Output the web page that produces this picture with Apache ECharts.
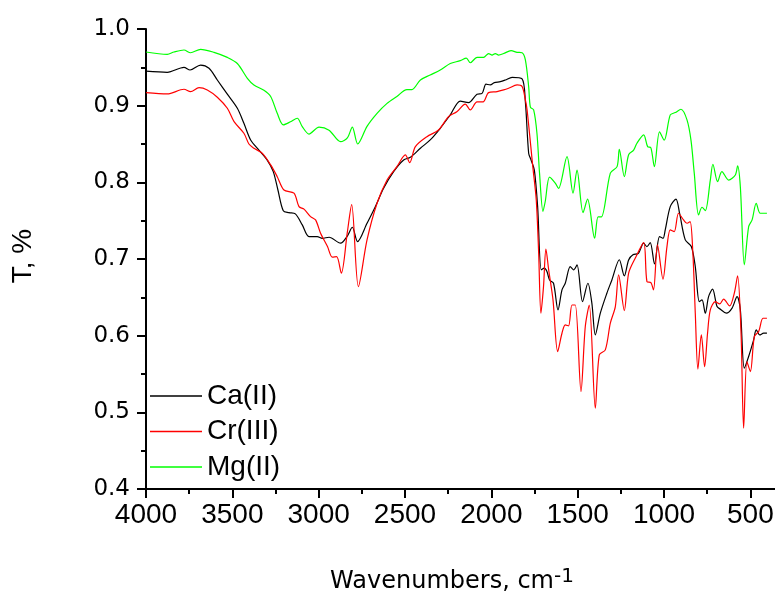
<!DOCTYPE html>
<html>
<head>
<meta charset="utf-8">
<script src="https://cdn.jsdelivr.net/npm/echarts@6/dist/echarts.min.js"></script>
<style>
  html, body { margin: 0; padding: 0; background: #fff; }
  #chart { width: 775px; height: 596px; }
</style>
</head>
<body>
<div id="chart"></div>
<script>
// IR transmittance spectra of the three metal complexes
const seriesNames = ['Ca(II)', 'Cr(III)', 'Mg(II)'];

const caWn = [4000, 3877, 3780, 3745, 3684, 3635, 3587, 3529, 3471, 3433, 3394, 3346, 3298, 3263, 3236, 3205, 3172, 3135, 3095, 3056, 3008, 2979, 2940, 2873, 2836, 2805, 2775, 2720, 2672, 2624, 2566, 2508, 2469, 2411, 2354, 2296, 2238, 2180, 2132, 2083, 2054, 2031, 2006, 1983, 1948, 1919, 1880, 1822, 1803, 1784, 1770, 1751, 1732, 1711, 1693, 1678, 1663, 1640, 1614, 1591, 1572, 1543, 1524, 1504, 1472, 1441, 1418, 1398, 1369, 1331, 1302, 1259, 1230, 1205, 1180, 1148, 1118, 1099, 1080, 1055, 1026, 1006, 993, 964, 931, 910, 877, 842, 819, 796, 780, 761, 742, 719, 693, 674, 639, 606, 577, 558, 535, 510, 481, 466, 446, 423, 404];
const caT = [0.945, 0.9435, 0.950, 0.9465, 0.953, 0.9488, 0.9335, 0.915, 0.8966, 0.877, 0.8553, 0.842, 0.829, 0.814, 0.790, 0.763, 0.7605, 0.7588, 0.7445, 0.7292, 0.7292, 0.727, 0.7284, 0.7206, 0.7292, 0.7414, 0.7227, 0.7466, 0.7683, 0.7923, 0.814, 0.8292, 0.8327, 0.8445, 0.8553, 0.8705, 0.888, 0.906, 0.904, 0.915, 0.916, 0.928, 0.927, 0.930, 0.9313, 0.9335, 0.937, 0.935, 0.905, 0.838, 0.829, 0.816, 0.7683, 0.6858, 0.688, 0.6836, 0.6727, 0.6684, 0.6336, 0.6597, 0.6684, 0.690, 0.6858, 0.6923, 0.6445, 0.6684, 0.6424, 0.601, 0.6293, 0.6554, 0.6727, 0.699, 0.678, 0.6988, 0.7054, 0.7075, 0.7206, 0.7162, 0.7214, 0.6936, 0.7292, 0.727, 0.738, 0.7683, 0.778, 0.7597, 0.7249, 0.7162, 0.690, 0.6445, 0.6467, 0.6293, 0.651, 0.6606, 0.638, 0.6345, 0.6293, 0.636, 0.651, 0.6336, 0.5576, 0.5728, 0.5945, 0.6075, 0.601, 0.6032, 0.6032];

const crWn = [4000, 3877, 3780, 3742, 3693, 3645, 3587, 3529, 3490, 3433, 3404, 3375, 3327, 3278, 3240, 3201, 3143, 3114, 3085, 3047, 3018, 2989, 2949, 2921, 2896, 2869, 2834, 2809, 2770, 2720, 2662, 2604, 2547, 2498, 2473, 2440, 2373, 2306, 2248, 2200, 2151, 2122, 2083, 2048, 2016, 1967, 1929, 1900, 1851, 1822, 1803, 1793, 1760, 1740, 1726, 1713, 1698, 1684, 1668, 1643, 1616, 1591, 1572, 1553, 1533, 1514, 1481, 1456, 1433, 1398, 1375, 1340, 1311, 1282, 1263, 1230, 1205, 1167, 1118, 1099, 1076, 1061, 1038, 1006, 983, 964, 941, 916, 887, 867, 849, 833, 819, 804, 784, 765, 748, 732, 703, 678, 655, 620, 593, 574, 554, 539, 520, 500, 477, 452, 427, 404];
const crT = [0.917, 0.9153, 0.9214, 0.9183, 0.9235, 0.9205, 0.911, 0.8966, 0.8791, 0.864, 0.850, 0.8445, 0.838, 0.8227, 0.8074, 0.790, 0.7858, 0.7683, 0.765, 0.7553, 0.751, 0.7336, 0.7162, 0.7024, 0.703, 0.6815, 0.735, 0.771, 0.664, 0.7249, 0.7727, 0.803, 0.8205, 0.8357, 0.8257, 0.8466, 0.8596, 0.8683, 0.8857, 0.892, 0.902, 0.8944, 0.905, 0.905, 0.917, 0.9183, 0.9205, 0.9227, 0.927, 0.925, 0.9074, 0.8944, 0.8205, 0.777, 0.7075, 0.6293, 0.664, 0.7128, 0.6858, 0.6467, 0.5793, 0.6032, 0.614, 0.6128, 0.640, 0.640, 0.5271, 0.6119, 0.640, 0.5055, 0.575, 0.5815, 0.6163, 0.638, 0.6793, 0.6327, 0.6815, 0.701, 0.7214, 0.6706, 0.6693, 0.6597, 0.7184, 0.6737, 0.7162, 0.738, 0.7358, 0.7597, 0.751, 0.7466, 0.7488, 0.7075, 0.6293, 0.5563, 0.601, 0.5597, 0.6032, 0.6336, 0.6445, 0.6414, 0.6476, 0.6388, 0.6554, 0.678, 0.6032, 0.4794, 0.5662, 0.5532, 0.5988, 0.6053, 0.6227, 0.6227];

const mgWn = [4000, 3877, 3838, 3780, 3742, 3684, 3606, 3529, 3471, 3413, 3375, 3317, 3278, 3240, 3205, 3163, 3124, 3095, 3056, 2998, 2940, 2873, 2834, 2805, 2774, 2720, 2662, 2604, 2547, 2489, 2460, 2411, 2354, 2296, 2238, 2180, 2145, 2122, 2083, 2045, 2016, 1996, 1977, 1958, 1929, 1886, 1851, 1822, 1803, 1784, 1774, 1755, 1736, 1721, 1701, 1688, 1663, 1630, 1611, 1562, 1527, 1504, 1469, 1443, 1402, 1382, 1363, 1311, 1272, 1259, 1230, 1205, 1176, 1157, 1118, 1095, 1076, 1056, 1026, 999, 964, 935, 902, 867, 844, 825, 800, 780, 761, 732, 717, 690, 665, 626, 587, 574, 558, 535, 510, 490, 466, 443, 404];
const mgT = [0.970, 0.967, 0.970, 0.9726, 0.969, 0.9735, 0.9696, 0.963, 0.955, 0.9357, 0.927, 0.920, 0.912, 0.890, 0.875, 0.879, 0.8836, 0.8726, 0.863, 0.872, 0.868, 0.853, 0.858, 0.872, 0.850, 0.873, 0.890, 0.903, 0.912, 0.921, 0.921, 0.9335, 0.940, 0.9465, 0.955, 0.9587, 0.962, 0.956, 0.963, 0.963, 0.968, 0.966, 0.968, 0.966, 0.968, 0.9717, 0.9696, 0.969, 0.9596, 0.925, 0.898, 0.8944, 0.864, 0.812, 0.762, 0.775, 0.8067, 0.799, 0.792, 0.8335, 0.786, 0.816, 0.7605, 0.778, 0.7271, 0.755, 0.755, 0.812, 0.8205, 0.843, 0.8075, 0.836, 0.842, 0.851, 0.862, 0.8466, 0.845, 0.8205, 0.866, 0.855, 0.888, 0.891, 0.8953, 0.8814, 0.855, 0.812, 0.7575, 0.7675, 0.7631, 0.803, 0.8236, 0.8009, 0.814, 0.803, 0.8096, 0.8214, 0.794, 0.6923, 0.7422, 0.751, 0.7727, 0.7597, 0.7597];

// Axis ticks
const xMajorTicks = [4000, 3500, 3000, 2500, 2000, 1500, 1000, 500];
const xMinorTicks = [3750, 3250, 2750, 2250, 1750, 1250, 750];

const lineColors = ['#000000', '#ff0000', '#00ff00'];

function pairs(wn, t) { return wn.map((w, i) => [w, t[i]]); }

const chart = echarts.init(document.getElementById('chart'), null, { renderer: 'canvas' });

const xRange = { min: 340, max: 4000 };
const axisBlack = { color: '#000', width: 2 };

chart.setOption({
  animation: false,
  backgroundColor: '#ffffff',
  grid: { left: 146, top: 29, width: 632, height: 460, containLabel: false, outerBoundsMode: 'none' },
  legend: {
    orient: 'vertical',
    left: 150,
    top: 381,
    padding: 0,
    itemWidth: 52,
    itemHeight: 1.5,
    itemGap: 5.5,
    icon: 'rect',
    data: seriesNames.map((name, i) => ({ name, itemStyle: { color: lineColors[i] } })),
    textStyle: { fontFamily: 'Liberation Sans', fontSize: 28, color: '#000', lineHeight: 30 }
  },
  xAxis: [
    {
      type: 'value', inverse: true, min: xRange.min, max: xRange.max,
      axisLine: { show: true, onZero: false, lineStyle: axisBlack },
      axisTick: { show: true, length: 9, customValues: xMajorTicks, lineStyle: axisBlack },
      axisLabel: {
        show: true, customValues: xMajorTicks, margin: 12,
        fontFamily: 'Liberation Sans', fontSize: 28, color: '#000',
        formatter: v => String(v)
      },
      splitLine: { show: false }
    },
    {
      type: 'value', inverse: true, min: xRange.min, max: xRange.max, position: 'bottom',
      axisLine: { show: false },
      axisTick: { show: true, length: 5, customValues: xMinorTicks, lineStyle: axisBlack },
      axisLabel: { show: false },
      splitLine: { show: false }
    }
  ],
  yAxis: {
    type: 'value', min: 0.4, max: 1.0, interval: 0.1,
    axisLine: { show: true, onZero: false, lineStyle: axisBlack },
    axisTick: { show: true, length: 9, lineStyle: axisBlack },
    minorTick: { show: true, splitNumber: 2, length: 5, lineStyle: axisBlack },
    axisLabel: {
      margin: 16, fontFamily: 'DejaVu Sans', fontSize: 23, color: '#000',
      formatter: v => v.toFixed(1)
    },
    splitLine: { show: false },
    minorSplitLine: { show: false }
  },
  graphic: [
    {
      type: 'text', x: 23, y: 256, rotation: Math.PI / 2,
      style: {
        text: 'T, %', fontFamily: 'Liberation Sans', fontSize: 28, fill: '#000',
        align: 'center', verticalAlign: 'middle'
      }
    },
    {
      type: 'text', x: 452, y: 582,
      style: {
        text: '{a|Wavenumbers, cm}{b|-1}',
        align: 'center', verticalAlign: 'middle', fill: '#000',
        rich: {
          a: { fontFamily: 'DejaVu Sans', fontSize: 24, lineHeight: 30, fill: '#000' },
          b: { fontFamily: 'DejaVu Sans', fontSize: 20, lineHeight: 20, verticalAlign: 'top', fill: '#000' }
        }
      }
    }
  ],
  series: [
    { name: seriesNames[0], data: pairs(caWn, caT), color: lineColors[0] },
    { name: seriesNames[1], data: pairs(crWn, crT), color: lineColors[1] },
    { name: seriesNames[2], data: pairs(mgWn, mgT), color: lineColors[2] }
  ].map(s => ({
    type: 'line',
    name: s.name,
    data: s.data,
    xAxisIndex: 0,
    showSymbol: false,
    symbol: 'none',
    smooth: 0.3,
    clip: true,
    itemStyle: { color: s.color },
    lineStyle: { color: s.color, width: 1.2 }
  }))
});
</script>
</body>
</html>
